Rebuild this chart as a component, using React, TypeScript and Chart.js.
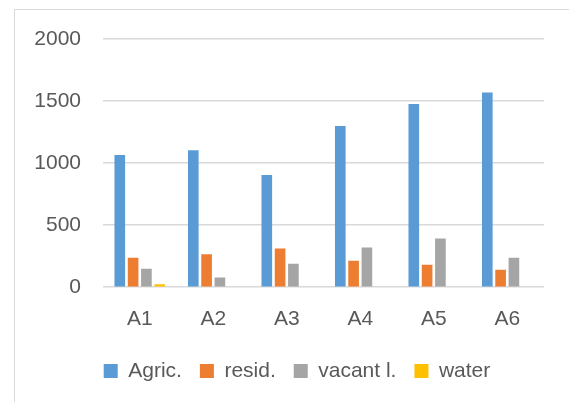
import React, { useEffect, useRef } from "react";
import { Chart, registerables } from "chart.js";

Chart.register(...registerables);

const categories = ["A1", "A2", "A3", "A4", "A5", "A6"];
const agric = [1065, 1104, 904, 1299, 1477, 1568];
const resid = [238, 265, 311, 214, 181, 141];
const vacant = [149, 79, 189, 319, 392, 238];
const water = [24, 0, 0, 0, 0, 0];
const yTicks = [0, 500, 1000, 1500, 2000];

const FONT = "'Liberation Sans', Arial, sans-serif";
const TEXT = "#595959";

const legendShift = {
  id: "legendShift",
  afterLayout(chart: any) {
    if (chart.legend) {
      chart.legend.left = 50;
    }
  },
};

export default function App() {
  const ref = useRef<HTMLCanvasElement | null>(null);

  useEffect(() => {
    if (!ref.current) return;
    const chart = new Chart(ref.current, {
      type: "bar",
      data: {
        labels: categories,
        datasets: [
          { label: "Agric.", data: agric, backgroundColor: "#5B9BD5" },
          { label: "resid.", data: resid, backgroundColor: "#ED7D31" },
          { label: "vacant l.", data: vacant, backgroundColor: "#A5A5A5" },
          { label: "water", data: water, backgroundColor: "#FFC000" },
        ],
      },
      plugins: [legendShift],
      options: {
        responsive: false,
        animation: false,
        datasets: {
          bar: { categoryPercentage: 0.724, barPercentage: 0.8 },
        },
        layout: { padding: { left: 0, top: 39, right: 25, bottom: 10.4 } },
        plugins: {
          tooltip: { enabled: false },
          legend: {
            position: "bottom",
            labels: {
              boxWidth: 14,
              boxHeight: 14,
              padding: 18,
              color: TEXT,
              font: { family: FONT, size: 21 },
            },
          },
        },
        scales: {
          x: {
            grid: { display: false },
            border: { display: false },
            ticks: { color: TEXT, font: { family: FONT, size: 21 }, padding: 11 },
            afterFit: (s: any) => {
              s.height = 55.4;
            },
          },
          y: {
            min: 0,
            max: 2000,
            afterBuildTicks: (s: any) => {
              s.ticks = yTicks.map((v) => ({ value: v }));
            },
            grid: { color: "#D9D9D9", lineWidth: 1.5, drawTicks: false },
            border: { display: false },
            ticks: {
              color: TEXT,
              font: { family: FONT, size: 21 },
              padding: 22,
              callback: (v: any) => String(v),
            },
            afterFit: (s: any) => {
              s.width = 103;
            },
          },
        },
      },
    });
    return () => chart.destroy();
  }, []);

  return (
    <div style={{ position: "fixed", left: 0, top: 0, width: 569, height: 402, background: "#fff" }}>
      <div
        style={{
          position: "absolute",
          left: 14,
          top: 9,
          width: 569 - 14,
          height: 402 - 9,
          borderLeft: "1.5px solid #D9D9D9",
          borderTop: "1.5px solid #D9D9D9",
          boxSizing: "border-box",
        }}
      />
      <canvas ref={ref} width={569} height={402} style={{ position: "absolute", left: 0, top: 0 }} />
    </div>
  );
}
